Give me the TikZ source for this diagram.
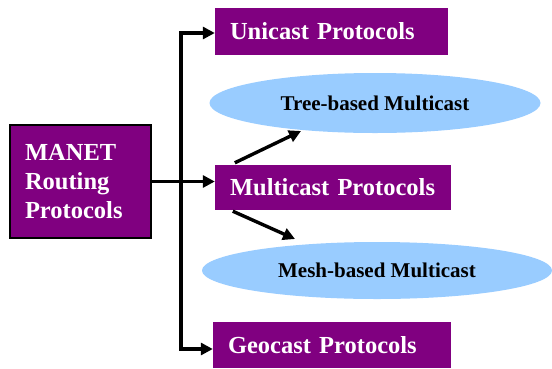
\documentclass[tikz,border=0pt]{standalone}
\usepackage{fontspec}
\setmainfont{Liberation Serif}
\usetikzlibrary{shapes.geometric,arrows.meta}
\definecolor{boxpurple}{RGB}{128,0,128}
\definecolor{ellblue}{RGB}{153,204,255}
\begin{document}
\begin{tikzpicture}[x=1pt,y=-1pt,
  pbox/.style={fill=boxpurple,text=white,font=\bfseries\fontsize{24.5}{29}\selectfont,
    align=left,inner xsep=15pt,inner ysep=0pt},
  ell/.style={ellipse,fill=ellblue,inner sep=0pt,font=\bfseries\fontsize{21}{25}\selectfont},
  arr/.style={line width=3.4pt,-{Triangle[length=12pt,width=12pt]}},
]
\useasboundingbox[fill=white] (0,0) rectangle (552,368);
\node[pbox,draw=black,line width=1.2pt,text width=111pt,minimum height=113pt] (manet) at (80.5,181.5) {MANET\\Routing\\Protocols};
\node[pbox,text width=203pt,minimum height=47pt] (uni) at (331.5,31.5) {Unicast Protocols};
\node[pbox,text width=206pt,minimum height=45pt] (mc) at (333,187.5) {Multicast Protocols};
\node[pbox,text width=208pt,minimum height=46pt] (geo) at (332,345) {Geocast Protocols};
\node[ell,minimum width=331pt,minimum height=60pt] (tree) at (375,103) {Tree-based Multicast};
\node[ell,minimum width=350pt,minimum height=57pt] (mesh) at (377,270.5) {Mesh-based Multicast};
\coordinate (vtop) at (181,33);
\coordinate (vbot) at (181,349);
\coordinate (tt) at (301,131);
\coordinate (mt) at (295,239);
\draw[arr] (vbot) -- (vtop) -- (vtop -| uni.west);
\draw[arr] (vtop) -- (vbot) -- (vbot -| geo.west);
\draw[arr] (manet.east) -- (manet.east -| mc.west);
\draw[arr] ([xshift=20pt,yshift=2pt]mc.north west) -- (tt);
\draw[arr] ([xshift=18pt,yshift=-1pt]mc.south west) -- (mt);
\end{tikzpicture}
\end{document}
